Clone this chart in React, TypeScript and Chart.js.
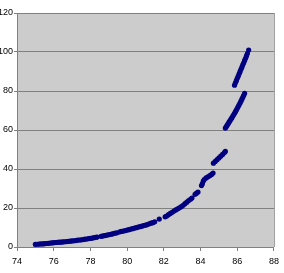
import React, { useEffect, useRef } from "react";
import { Chart, registerables } from "chart.js";

Chart.register(...registerables);

const xValues: number[] = [
  75.0, 75.1, 75.2, 75.3, 75.4, 75.5, 75.6, 75.7, 75.8, 75.9,
  76.0, 76.1, 76.2, 76.3, 76.4, 76.5, 76.6, 76.7, 76.8, 76.9,
  77.0, 77.1, 77.2, 77.3, 77.4, 77.5, 77.6, 77.7, 77.8, 77.9,
  78.0, 78.1, 78.2, 78.3, 78.36,
  78.58, 78.65, 78.75, 78.85, 78.95, 79.05, 79.15, 79.25, 79.35, 79.45,
  79.6, 79.7, 79.8, 79.9, 80.0, 80.1, 80.2, 80.3, 80.4, 80.5,
  80.6, 80.7, 80.8, 80.9, 81.0, 81.1, 81.2, 81.3, 81.4, 81.5,
  81.75,
  82.07, 82.15, 82.25, 82.35, 82.45, 82.55, 82.65, 82.75, 82.85, 82.95,
  83.05, 83.15, 83.25, 83.35, 83.45, 83.53,
  83.7, 83.78, 83.86,
  84.05, 84.1, 84.15, 84.2, 84.3, 84.4, 84.5, 84.6, 84.68,
  84.7, 84.8, 84.9, 85.0, 85.1, 85.2, 85.3, 85.35,
  85.35, 85.4, 85.45, 85.5, 85.55, 85.6, 85.65, 85.7, 85.75, 85.8, 85.85, 85.9, 85.95, 86.0, 86.05, 86.1, 86.15, 86.2, 86.25, 86.3, 86.35, 86.4,
  85.85, 85.9, 85.95, 86.0, 86.05, 86.1, 86.15, 86.2, 86.25, 86.3, 86.35, 86.4, 86.45, 86.5, 86.55, 86.62,
];

const yValues: number[] = [
  1.3, 1.4, 1.5, 1.6, 1.6, 1.7, 1.8, 1.9, 2.0, 2.1,
  2.2, 2.3, 2.4, 2.5, 2.5, 2.6, 2.7, 2.8, 2.9, 3.0,
  3.1, 3.2, 3.3, 3.5, 3.6, 3.7, 3.8, 4.0, 4.1, 4.3,
  4.4, 4.6, 4.8, 5.0, 5.1,
  5.5, 5.6, 5.8, 6.0, 6.2, 6.4, 6.6, 6.9, 7.1, 7.3,
  7.8, 8.0, 8.2, 8.4, 8.7, 8.9, 9.2, 9.4, 9.7, 9.9,
  10.2, 10.4, 10.7, 11.0, 11.2, 11.5, 11.9, 12.2, 12.5, 12.9,
  14.3,
  15.5, 15.9, 16.6, 17.2, 17.8, 18.4, 19.0, 19.6, 20.1, 20.7,
  21.4, 22.2, 23.0, 23.8, 24.5, 25.1,
  27.0, 27.6, 28.2,
  31.5, 32.5, 33.8, 34.6, 35.4, 36.0, 36.6, 37.2, 37.9,
  43.0, 43.9, 44.8, 45.7, 46.6, 47.5, 48.4, 49.0,
  61.0, 61.7, 62.5, 63.2, 64.0, 64.7, 65.5, 66.2, 67.0, 67.8, 68.6, 69.4, 70.2, 71.1, 72.0, 72.9, 73.8, 74.8, 75.8, 76.8, 77.8, 78.8,
  83.0, 84.2, 85.3, 86.5, 87.6, 88.8, 89.9, 91.1, 92.2, 93.4, 94.5, 95.7, 96.8, 98.0, 99.2, 101.0,
];

const xTickRange = { min: 74, max: 88, step: 2 };
const yTickRange = { min: 0, max: 120, step: 20 };

const plotBg = {
  id: "plotBg",
  beforeDraw(chart: any) {
    const { ctx, chartArea } = chart;
    if (!chartArea) return;
    ctx.save();
    ctx.fillStyle = "#CCCCCC";
    ctx.fillRect(chartArea.left, chartArea.top, chartArea.right - chartArea.left, chartArea.bottom - chartArea.top);
    ctx.strokeStyle = "#A0A0A0";
    ctx.lineWidth = 1;
    ctx.beginPath();
    ctx.moveTo(Math.round(chartArea.right) + 0.5, chartArea.top);
    ctx.lineTo(Math.round(chartArea.right) + 0.5, chartArea.bottom);
    ctx.stroke();
    ctx.restore();
  },
};

export default function App() {
  const ref = useRef<HTMLCanvasElement | null>(null);
  useEffect(() => {
    if (!ref.current) return;
    const font = { family: "'Liberation Sans Narrow', 'Arial Narrow', Arial, sans-serif", size: 9 };
    const chart = new Chart(ref.current, {
      type: "scatter",
      data: {
        datasets: [
          {
            data: xValues.map((x, i) => ({ x, y: yValues[i] })),
            backgroundColor: "#000080",
            borderColor: "#000080",
            borderWidth: 0,
            pointRadius: 2.6,
            pointHoverRadius: 2.6,
            pointStyle: "circle",
          },
        ],
      },
      options: {
        animation: false,
        responsive: false,
        devicePixelRatio: 1,
        layout: { padding: { top: 13, right: 10, left: 0, bottom: 0 } },
        plugins: { legend: { display: false }, tooltip: { enabled: false } },
        scales: {
          x: {
            type: "linear",
            min: xTickRange.min,
            max: xTickRange.max,
            ticks: { stepSize: xTickRange.step, color: "#000", font, padding: 5, maxRotation: 0 },
            grid: { drawOnChartArea: false, drawTicks: true, tickLength: 4, color: "#808080" },
            border: { color: "#808080" },
            afterFit: (s: any) => { s.height = 26; },
          },
          y: {
            min: yTickRange.min,
            max: yTickRange.max,
            ticks: { stepSize: yTickRange.step, color: "#000", font, padding: 1 },
            grid: { color: "#808080", tickLength: 3, drawTicks: true },
            border: { color: "#808080" },
            afterFit: (s: any) => { s.width = 17; },
          },
        },
      },
      plugins: [plotBg],
    });
    return () => chart.destroy();
  }, []);
  return (
    <div style={{ position: "fixed", left: 0, top: 0, width: 284, height: 273, background: "#fff" }}>
      <canvas ref={ref} width={284} height={273} style={{ display: "block" }} />
    </div>
  );
}
